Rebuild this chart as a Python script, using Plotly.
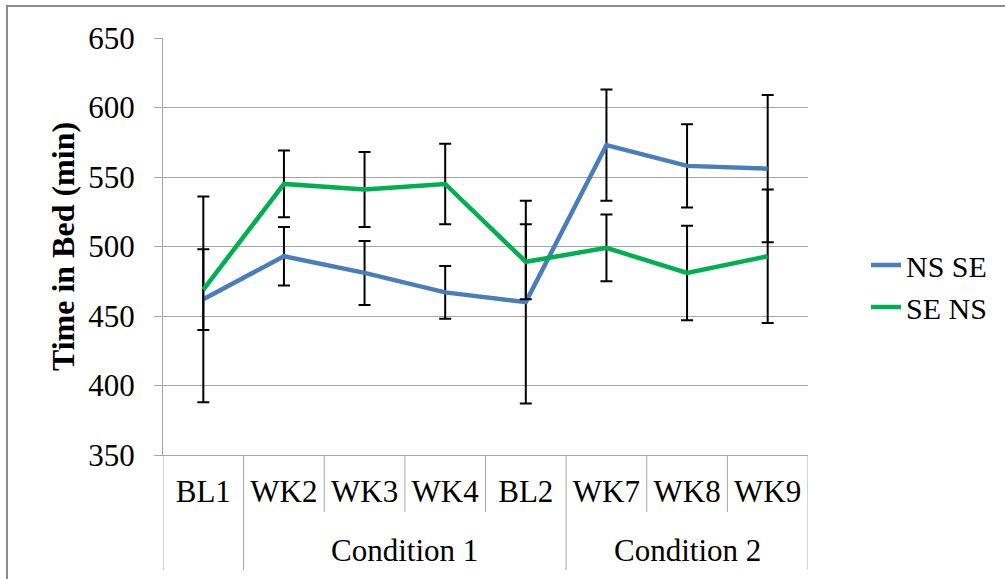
import plotly.graph_objects as go

weeks = ["BL1", "WK2", "WK3", "WK4", "BL2", "WK7", "WK8", "WK9"]
conditions = ["", "Condition 1", "Condition 1", "Condition 1", "Condition 1",
              "Condition 2", "Condition 2", "Condition 2"]

ns_se = [462, 493, 481, 467, 460, 573, 558, 556]
ns_se_err = [74, 21, 23, 19, 73, 40, 30, 53]
se_ns = [469, 545, 541, 545, 489, 499, 481, 493]
se_ns_err = [29, 24, 27, 29, 27, 24, 34, 48]

y_ticks = [350, 400, 450, 500, 550, 600, 650]

FONT = "Liberation Serif"
GRID = "#A6A6A6"
L, R, T, B = 163, 197, 38, 124
W, H = 1005, 579
PW, PH = W - L - R, H - T - B


def py(px):
    """pixel row -> paper y"""
    return (T + PH - px) / PH


fig = go.Figure()
fig.add_trace(go.Scatter(
    x=weeks, y=ns_se, name="NS SE", mode="lines",
    line=dict(color="#4A7EBB", width=4.5),
    error_y=dict(type="data", array=ns_se_err, visible=True,
                 color="black", thickness=2, width=6),
))
fig.add_trace(go.Scatter(
    x=weeks, y=se_ns, name="SE NS", mode="lines",
    line=dict(color="#00B050", width=4.5),
    error_y=dict(type="data", array=se_ns_err, visible=True,
                 color="black", thickness=2, width=6),
))

shapes = []
annotations = []
n = len(weeks)
# separators: long ones between condition groups, short ones inside groups
for i in range(n + 1):
    if i == 0 or i == n or conditions[i] != conditions[i - 1]:
        y1 = py(570)
    else:
        y1 = py(512)
    shapes.append(dict(type="line", xref="x", yref="paper",
                       x0=i - 0.5, x1=i - 0.5, y0=0, y1=y1,
                       line=dict(color=GRID, width=1)))
# group labels
groups = []
for i, c in enumerate(conditions):
    if c and (not groups or groups[-1][0] != c):
        groups.append([c, i, i])
    elif c:
        groups[-1][2] = i
for name, a, b in groups:
    annotations.append(dict(text=name, xref="x", yref="paper",
                            x=(a + b) / 2, y=py(550), showarrow=False,
                            xanchor="center", yanchor="middle",
                            font=dict(family=FONT, size=31, color="black")))
# outer chart border
shapes.append(dict(type="rect", xref="paper", yref="paper",
                   x0=(7 - L) / PW, x1=(1012 - L) / PW,
                   y0=py(592), y1=py(6),
                   line=dict(color="#8C8C8C", width=2), layer="below"))

fig.update_layout(
    width=W, height=H,
    margin=dict(l=L, r=R, t=T, b=B, autoexpand=False),
    paper_bgcolor="white", plot_bgcolor="white",
    font=dict(family=FONT, size=31, color="black"),
    showlegend=True,
    legend=dict(x=(866 - L) / PW, xanchor="left", y=py(286),
                yanchor="middle", font=dict(family=FONT, size=30, color="black"),
                bgcolor="rgba(0,0,0,0)"),
    shapes=shapes,
    annotations=annotations,
)
fig.update_xaxes(
    type="category", range=[-0.5, n - 0.5], showline=True, linecolor=GRID,
    linewidth=1, ticks="", showgrid=False,
    tickfont=dict(family=FONT, size=31), ticklabelstandoff=9,
    automargin=False,
)
fig.update_yaxes(
    range=[350, 650], tickvals=y_ticks, ticks="outside", ticklen=8,
    tickcolor=GRID, showline=True, linecolor=GRID, linewidth=1,
    showgrid=True, gridcolor=GRID, gridwidth=1, zeroline=False,
    tickfont=dict(family=FONT, size=31), ticklabelstandoff=13,
    automargin=False,
    title=dict(text="<b>Time in Bed (min)</b>",
               font=dict(family=FONT, size=32), standoff=4),
)
fig.write_html("out.html")
